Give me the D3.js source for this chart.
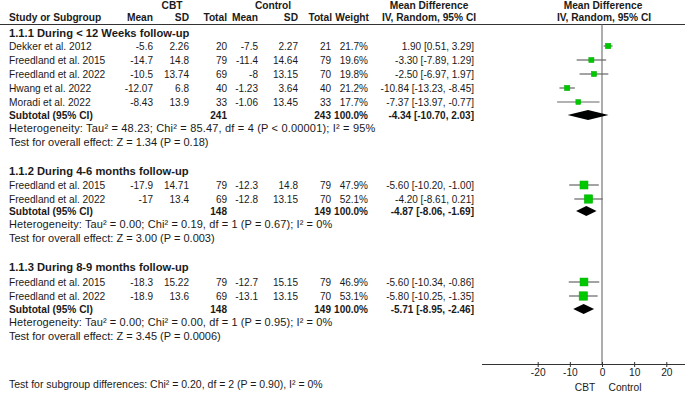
<!DOCTYPE html>
<html><head><meta charset="utf-8">
<script src="https://cdn.jsdelivr.net/npm/d3@7"></script>
<style>body{margin:0;background:#fff}svg{display:block}text{font-family:"Liberation Sans",Arial,sans-serif;font-size:10px;fill:#1a1a1a}</style>
</head><body>
<script>
// ---- data ----
const groupTitles = ["1.1.1 During < 12 Weeks follow-up","1.1.2 During 4-6 months follow-up","1.1.3 During 8-9 months follow-up"];
const studyNames = [
  ["Dekker et al. 2012","Freedland et al. 2015","Freedland et al. 2022","Hwang et al. 2022","Moradi et al. 2022"],
  ["Freedland et al. 2015","Freedland et al. 2022"],
  ["Freedland et al. 2015","Freedland et al. 2022"]];
const cbtMean = [[-5.6,-14.7,-10.5,-12.07,-8.43],[-17.9,-17],[-18.3,-18.9]];
const cbtSD = [[2.26,14.8,13.74,6.8,13.9],[14.71,13.4],[15.22,13.6]];
const cbtN = [[20,79,69,40,33],[79,69],[79,69]];
const ctlMean = [[-7.5,-11.4,-8,-1.23,-1.06],[-12.3,-12.8],[-12.7,-13.1]];
const ctlSD = [[2.27,14.64,13.15,3.64,13.45],[14.8,13.15],[15.15,13.15]];
const ctlN = [[21,79,70,40,33],[79,70],[79,70]];
const weights = [[21.7,19.6,19.8,21.2,17.7],[47.9,52.1],[46.9,53.1]];
const md = [[1.90,-3.30,-2.50,-10.84,-7.37],[-5.60,-4.20],[-5.60,-5.80]];
const lo = [[0.51,-7.89,-6.97,-13.23,-13.97],[-10.20,-8.61],[-10.34,-10.25]];
const hi = [[3.29,1.29,1.97,-8.45,-0.77],[-1.00,0.21],[-0.86,-1.35]];
const subTotalCBT = [241,148,148];
const subTotalCtl = [243,149,149];
const subMD = [-4.34,-4.87,-5.71];
const subLo = [-10.70,-8.06,-8.95];
const subHi = [2.03,-1.69,-2.46];
const hetText = ["Heterogeneity: Tau² = 48.23; Chi² = 85.47, df = 4 (P < 0.00001); I² = 95%",
  "Heterogeneity: Tau² = 0.00; Chi² = 0.19, df = 1 (P = 0.67); I² = 0%",
  "Heterogeneity: Tau² = 0.00; Chi² = 0.00, df = 1 (P = 0.95); I² = 0%"];
const effText = ["Test for overall effect: Z = 1.34 (P = 0.18)","Test for overall effect: Z = 3.00 (P = 0.003)","Test for overall effect: Z = 3.45 (P = 0.0006)"];
const subgroupDiff = "Test for subgroup differences: Chi² = 0.20, df = 2 (P = 0.90), I² = 0%";
const axisTicks = [-20,-10,0,10,20];

// ---- layout ----
const W=685,H=400;
const svg=d3.select("body").append("svg").attr("width",W).attr("height",H);
const x=d3.scaleLinear().domain([-20,20]).range([537.7,666.3]);
const loc=d3.formatLocale({decimal:".",thousands:",",grouping:[3],currency:["",""],minus:"-"});
const fmt2=loc.format(".2f");
const txt=(s,xx,yy,anchor,bold,size)=>svg.append("text").attr("x",xx).attr("y",yy).attr("dy","0.35em")
  .attr("text-anchor",anchor||"start").attr("font-weight",bold?"bold":null).style("font-size",size?size+"px":null).text(s);
const col={name:9,cm:153,csd:189,cn:227,km:258,ksd:298,kn:331,w:368,md:474};
const HS=10.2; // header size

// headers
txt("CBT",172,5,"middle",true,HS);
txt("Control",273,5,"middle",true,HS);
txt("Mean Difference",429,5,"middle",true,HS);
txt("Mean Difference",603,5,"middle",true,HS);
txt("Study or Subgroup",col.name,17,"start",true,HS);
txt("Mean",col.cm,17,"end",true,HS);txt("SD",col.csd,17,"end",true,HS);txt("Total",col.cn,17,"end",true,HS);
txt("Mean",col.km,17,"end",true,HS);txt("SD",col.ksd,17,"end",true,HS);txt("Total",col.kn+1,17,"end",true,HS);
txt("Weight",col.w+1,17,"end",true,HS);
txt("IV, Random, 95% CI",429,17,"middle",true,HS);
txt("IV, Random, 95% CI",604,17,"middle",true,HS);
svg.append("line").attr("x1",0).attr("x2",W).attr("y1",24.5).attr("y2",24.5).attr("stroke","#333").attr("stroke-width",1);

// zero line and axis
const axisY=364.5;
svg.append("line").attr("x1",x(0)).attr("x2",x(0)).attr("y1",24.5).attr("y2",axisY).attr("stroke","#777").attr("stroke-width",1.2);
svg.append("line").attr("x1",482).attr("x2",W).attr("y1",axisY).attr("y2",axisY).attr("stroke","#333").attr("stroke-width",1);
const ax=svg.append("g").attr("transform",`translate(0,${axisY+2.5})`)
  .call(d3.axisBottom(x).tickValues(axisTicks).tickSize(5).tickSizeOuter(0).tickFormat(loc.format("d")));
ax.select(".domain").remove();
ax.selectAll(".tick line").attr("y1",-5).attr("y2",0).attr("stroke","#333");
ax.selectAll(".tick text").attr("y",0).attr("dy","0.35em").attr("transform","translate(0,5.5)")
  .style("font-family","Liberation Sans, Arial, sans-serif").style("font-size","10.2px").attr("fill","#1a1a1a");
txt("CBT",585,387,"middle",false,10.2);
txt("Control",625,387,"middle",false,10.2);

const sizeK=1.16;
const groupY=[{title:33,rows:[46,60,74,88,102],sub:115,het:128,eff:142},
  {title:171,rows:[185,199],sub:211,het:224,eff:238},
  {title:267,rows:[282,296],sub:309,het:322,eff:336}];

groupTitles.forEach((t,g)=>{
  const G=groupY[g];
  txt(t,col.name,G.title,"start",true,11.2);
  studyNames[g].forEach((n,i)=>{
    const y=G.rows[i];
    txt(n,col.name,y,"start",false,10.2);
    txt(String(cbtMean[g][i]),col.cm,y,"end");
    txt(String(cbtSD[g][i]),col.csd,y,"end");
    txt(String(cbtN[g][i]),col.cn,y,"end");
    txt(String(ctlMean[g][i]),col.km,y,"end");
    txt(String(ctlSD[g][i]),col.ksd,y,"end");
    txt(String(ctlN[g][i]),col.kn,y,"end");
    txt(weights[g][i].toFixed(1)+"%",col.w,y,"end");
    txt(`${fmt2(md[g][i])} [${fmt2(lo[g][i])}, ${fmt2(hi[g][i])}]`,col.md,y,"end",false,10);
    svg.append("line").attr("x1",x(lo[g][i])).attr("x2",x(hi[g][i])).attr("y1",y).attr("y2",y)
      .attr("stroke","#666").attr("stroke-width",1.2);
    const s=sizeK*Math.sqrt(weights[g][i]);
    svg.append("rect").attr("x",x(md[g][i])-s/2).attr("y",y-s/2).attr("width",s).attr("height",s)
      .attr("fill","#00c800").attr("stroke","#00b000").attr("stroke-width",0.5);
  });
  const y=G.sub;
  txt("Subtotal (95% CI)",col.name,y,"start",true,10.2);
  txt(String(subTotalCBT[g]),col.cn,y,"end",true);
  txt(String(subTotalCtl[g]),col.kn,y,"end",true);
  txt("100.0%",col.w,y,"end",true,10);
  txt(`${fmt2(subMD[g])} [${fmt2(subLo[g])}, ${fmt2(subHi[g])}]`,col.md,y,"end",true,10);
  const h=5;
  svg.append("path").attr("d",`M${x(subLo[g])},${y}L${x(subMD[g])},${y-h}L${x(subHi[g])},${y}L${x(subMD[g])},${y+h}Z`).attr("fill","#000");
  txt(hetText[g],col.name,G.het,"start",false,11).style("letter-spacing",g===0?"0.18px":"0.1px");
  txt(effText[g],col.name,G.eff,"start",false,11);
});
txt(subgroupDiff,col.name,384,"start",false,10.5);
</script>
</body></html>
